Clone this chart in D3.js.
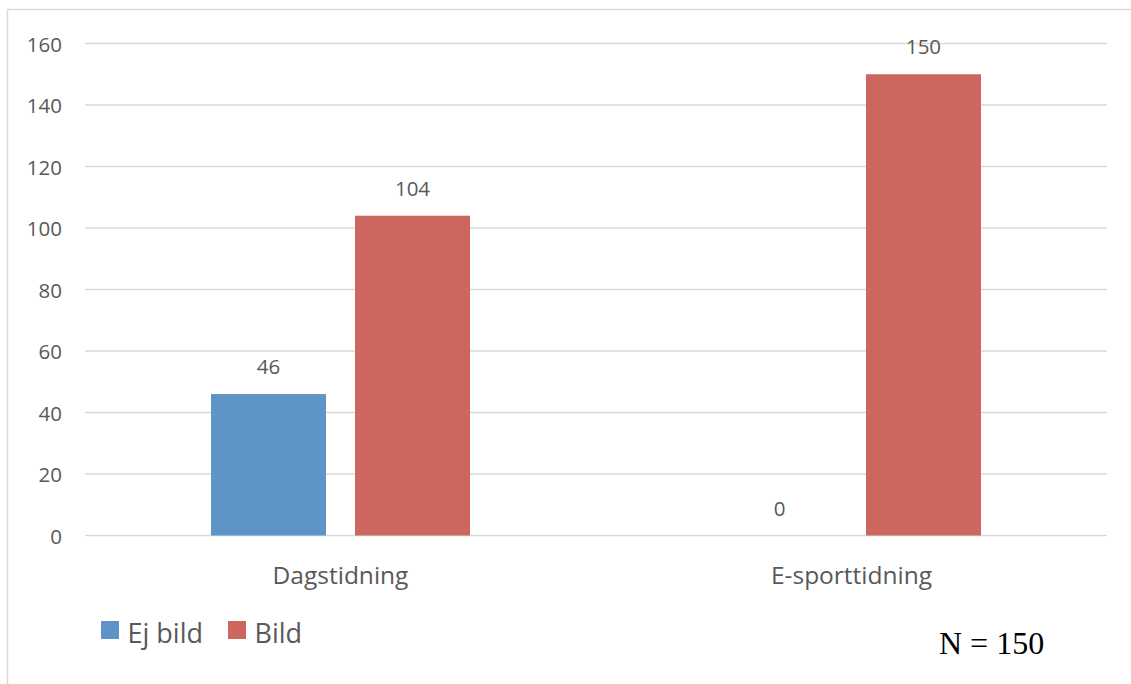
<!DOCTYPE html>
<html>
<head>
<meta charset="utf-8">
<script src="https://cdn.jsdelivr.net/npm/d3@7"></script>
<style>
  html, body { margin: 0; padding: 0; background: #fff; }
  svg { display: block; }
  text { font-family: "Open Sans", Lato, sans-serif; fill: #595959; }
</style>
</head>
<body>
<svg id="chart" width="1131" height="684"></svg>
<script>
const categories = ["Dagstidning", "E-sporttidning"];
const seriesNames = ["Ej bild", "Bild"];
const ejBild = [46, 0];
const bild = [104, 150];
const yTicks = [0, 20, 40, 60, 80, 100, 120, 140, 160];
const colors = ["#5f94c8", "#cc665f"];
const note = "N = 150";

const svg = d3.select("#chart");

// outer border
svg.append("rect")
  .attr("x", 7.5).attr("y", 9.5)
  .attr("width", 1140).attr("height", 700)
  .attr("fill", "none").attr("stroke", "#d9d9d9").attr("stroke-width", 1.5);

const plot = { left: 85, right: 1107, top: 43.5, bottom: 535.5 };

const y = d3.scaleLinear().domain([0, 160]).range([plot.bottom, plot.top]);
const x0 = d3.scaleBand().domain(categories).range([plot.left, plot.right]).paddingInner(0).paddingOuter(0);
const x1 = d3.scaleBand().domain(seriesNames).range([0, x0.bandwidth()]).paddingInner(0.2014).paddingOuter(0.875);

// gridlines
svg.append("g").selectAll("line").data(yTicks).join("line")
  .attr("x1", plot.left).attr("x2", plot.right)
  .attr("y1", d => y(d)).attr("y2", d => y(d))
  .attr("stroke", "#d9d9d9").attr("stroke-width", 1.5);

// y axis labels
const yAxis = d3.axisLeft(y).tickValues(yTicks).tickSize(0).tickPadding(0);
const yg = svg.append("g").attr("transform", "translate(62,0)").call(yAxis);
yg.select(".domain").remove();
yg.selectAll("text")
  .attr("font-family", "'Open Sans', Lato, sans-serif")
  .attr("font-size", 20.5).attr("fill", "#595959")
  .attr("dy", null).attr("y", 7.5);

// x axis labels
const xAxis = d3.axisBottom(x0).tickSize(0).tickPadding(0);
const xg = svg.append("g").attr("transform", `translate(0,${plot.bottom})`).call(xAxis);
xg.select(".domain").remove();
xg.selectAll("text")
  .attr("font-family", "'Open Sans', Lato, sans-serif")
  .attr("font-size", 24.5).attr("fill", "#595959")
  .attr("dy", null).attr("y", 48);

// bars
const data = categories.map((c, i) => ({ cat: c, vals: [ejBild[i], bild[i]] }));
const groups = svg.append("g").selectAll("g").data(data).join("g")
  .attr("transform", d => `translate(${x0(d.cat)},0)`);

groups.selectAll("rect").data(d => d.vals.map((v, j) => ({ s: seriesNames[j], v, j }))).join("rect")
  .attr("x", d => x1(d.s)).attr("width", x1.bandwidth())
  .attr("y", d => y(d.v)).attr("height", d => y(0) - y(d.v))
  .attr("fill", d => colors[d.j]);

groups.selectAll("text.val").data(d => d.vals.map((v, j) => ({ s: seriesNames[j], v, j }))).join("text")
  .attr("class", "val")
  .attr("x", d => x1(d.s) + x1.bandwidth() / 2)
  .attr("y", d => y(d.v) - 20)
  .attr("text-anchor", "middle")
  .attr("font-size", 20.5)
  .text(d => d.v);

// legend
const legend = svg.append("g");
const legX = [101, 228];
seriesNames.forEach((s, i) => {
  legend.append("rect").attr("x", legX[i]).attr("y", 621).attr("width", 18).attr("height", 18).attr("fill", colors[i]);
  legend.append("text").attr("x", legX[i] + 26.5).attr("y", 643).attr("font-size", 27).text(s);
});

// note
svg.append("text").attr("x", 939).attr("y", 654)
  .style("font-family", "'Liberation Serif', 'Times New Roman', serif")
  .style("fill", "#000").attr("font-size", 32).text(note);
</script>
</body>
</html>
